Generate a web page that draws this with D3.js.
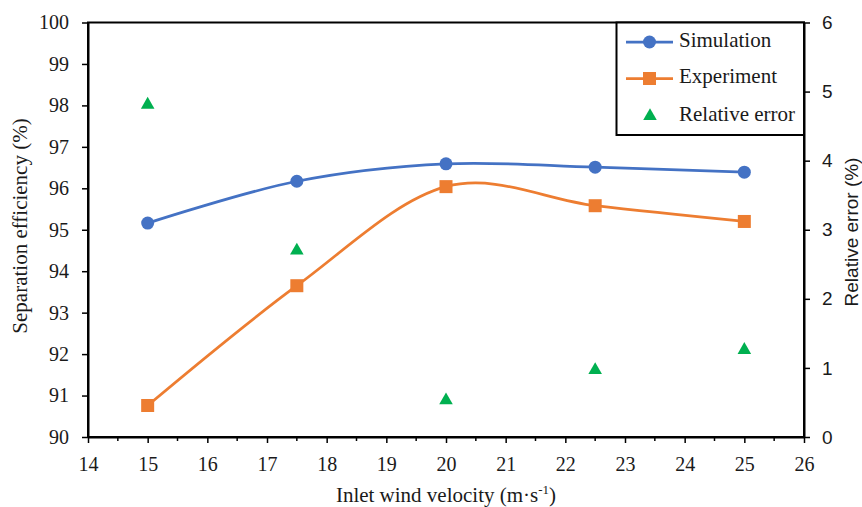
<!DOCTYPE html>
<html>
<head>
<meta charset="utf-8">
<script src="https://cdn.jsdelivr.net/npm/d3@7"></script>
<style>
  html, body { margin: 0; padding: 0; background: #fff; }
  svg { display: block; }
</style>
</head>
<body>
<svg id="chart" width="862" height="507"></svg>
<script>
// Inlet wind velocity (m/s)
const velocity = [15, 17.5, 20, 22.5, 25];
// Separation efficiency (%)
const simulation = [95.16, 96.17, 96.59, 96.51, 96.39];
const experiment = [90.76, 93.65, 96.04, 95.58, 95.20];
// Relative error (%)
const relativeError = [4.81, 2.70, 0.53, 0.97, 1.26];

const xTicks = [14, 15, 16, 17, 18, 19, 20, 21, 22, 23, 24, 25, 26];
const yLeftTicks = [90, 91, 92, 93, 94, 95, 96, 97, 98, 99, 100];
const yRightTicks = [0, 1, 2, 3, 4, 5, 6];

const W = 862, H = 507;
const margin = { top: 22.5, right: 58, bottom: 70, left: 88 };
const svg = d3.select("#chart");

const x = d3.scaleLinear().domain([14, 26]).range([margin.left, W - margin.right]);
const yL = d3.scaleLinear().domain([90, 100]).range([H - margin.bottom, margin.top]);
const yR = d3.scaleLinear().domain([0, 6]).range([H - margin.bottom, margin.top]);

const serif = "Liberation Serif, Times New Roman, Times, serif";
const sans = "Liberation Sans, Arial, sans-serif";
const BLUE = "#4472C4", ORANGE = "#ED7D31", GREEN = "#00B050";
const INK = "#1a1a1a";

// Plot frame
svg.append("rect")
  .attr("x", margin.left).attr("y", margin.top)
  .attr("width", W - margin.right - margin.left)
  .attr("height", H - margin.bottom - margin.top)
  .attr("fill", "none").attr("stroke", "#000").attr("stroke-width", 2);

// Minor x ticks at half units
const minorX = d3.range(14.5, 26, 1);
svg.append("g").selectAll("line").data(minorX).join("line")
  .attr("x1", d => x(d)).attr("x2", d => x(d))
  .attr("y1", yL(90)).attr("y2", yL(90) + 4)
  .attr("stroke", "#000").attr("stroke-width", 1.5);

function styleAxis(family, size) {
  return g => {
    g.attr("font-family", family).attr("font-size", size);
    g.select(".domain").attr("stroke", "#000").attr("stroke-width", 2);
    g.selectAll(".tick line").attr("stroke", "#000").attr("stroke-width", 1.5);
    g.selectAll(".tick text").attr("fill", INK);
  };
}

// Bottom axis
svg.append("g")
  .attr("transform", `translate(0,${yL(90)})`)
  .call(d3.axisBottom(x).tickValues(xTicks).tickSize(6).tickSizeOuter(0).tickPadding(14).tickFormat(d3.format("d")))
  .call(styleAxis(serif, 20));

// Left axis
svg.append("g")
  .attr("transform", `translate(${x(14)},0)`)
  .call(d3.axisLeft(yL).tickValues(yLeftTicks).tickSize(6).tickSizeOuter(0).tickPadding(13).tickFormat(d3.format("d")))
  .call(styleAxis(serif, 20));

// Right axis
svg.append("g")
  .attr("transform", `translate(${x(26)},0)`)
  .call(d3.axisRight(yR).tickValues(yRightTicks).tickSize(6).tickSizeOuter(0).tickPadding(12).tickFormat(d3.format("d")))
  .call(styleAxis(sans, 19));

// Axis titles
svg.append("text")
  .attr("transform", `translate(22,226) rotate(-90)`)
  .attr("text-anchor", "middle").attr("dominant-baseline", "middle")
  .attr("font-family", serif).attr("font-size", 21).attr("fill", INK)
  .text("Separation efficiency (%)");

svg.append("text")
  .attr("transform", `translate(853,232) rotate(-90)`)
  .attr("text-anchor", "middle").attr("dominant-baseline", "middle")
  .attr("font-family", sans).attr("font-size", 19).attr("fill", INK)
  .text("Relative error (%)");

const xt = svg.append("text")
  .attr("x", (x(14) + x(26)) / 2).attr("y", 502)
  .attr("text-anchor", "middle")
  .attr("font-family", serif).attr("font-size", 21).attr("fill", INK);
xt.append("tspan").text("Inlet wind velocity (m\u00B7s");
xt.append("tspan").attr("dy", -8).attr("font-size", 13).text("-1");
xt.append("tspan").attr("dy", 8).text(")");

// Smoothed series lines
const line = (vals) => d3.line()
  .x((d, i) => x(velocity[i]))
  .y(d => yL(d))
  .curve(d3.curveCardinal.tension(0))(vals);

svg.append("path").attr("d", line(simulation))
  .attr("fill", "none").attr("stroke", BLUE).attr("stroke-width", 2.75);
svg.append("path").attr("d", line(experiment))
  .attr("fill", "none").attr("stroke", ORANGE).attr("stroke-width", 2.75);

// Markers
svg.append("g").selectAll("circle").data(simulation).join("circle")
  .attr("cx", (d, i) => x(velocity[i])).attr("cy", d => yL(d))
  .attr("r", 6.5).attr("fill", BLUE);

svg.append("g").selectAll("rect").data(experiment).join("rect")
  .attr("x", (d, i) => x(velocity[i]) - 6.5).attr("y", d => yL(d) - 6.5)
  .attr("width", 13).attr("height", 13).attr("fill", ORANGE);

const tri = d3.symbol().type(d3.symbolTriangle).size(80);
svg.append("g").selectAll("path").data(relativeError).join("path")
  .attr("transform", (d, i) => `translate(${x(velocity[i])},${yR(d)})`)
  .attr("d", tri).attr("fill", GREEN);

// Legend
const lg = svg.append("g");
lg.append("rect")
  .attr("x", 616.5).attr("y", margin.top)
  .attr("width", x(26) - 616.5).attr("height", 135 - margin.top)
  .attr("fill", "#fff").attr("stroke", "#000").attr("stroke-width", 2);

const legendItems = [
  { label: "Simulation", color: BLUE, kind: "circle", y: 42 },
  { label: "Experiment", color: ORANGE, kind: "square", y: 78.5 },
  { label: "Relative error", color: GREEN, kind: "triangle", y: 116 }
];
legendItems.forEach(it => {
  if (it.kind !== "triangle") {
    lg.append("line").attr("x1", 626).attr("x2", 673).attr("y1", it.y).attr("y2", it.y)
      .attr("stroke", it.color).attr("stroke-width", 2.75);
  }
  if (it.kind === "circle") {
    lg.append("circle").attr("cx", 649.5).attr("cy", it.y).attr("r", 6.5).attr("fill", it.color);
  } else if (it.kind === "square") {
    lg.append("rect").attr("x", 643).attr("y", it.y - 6.5).attr("width", 13).attr("height", 13).attr("fill", it.color);
  } else {
    lg.append("path").attr("transform", `translate(650,${it.y})`).attr("d", tri).attr("fill", it.color);
  }
  lg.append("text").attr("x", 679).attr("y", it.y).attr("dominant-baseline", "middle")
    .attr("font-family", serif).attr("font-size", 21).attr("fill", INK)
    .text(it.label);
});
</script>
</body>
</html>
